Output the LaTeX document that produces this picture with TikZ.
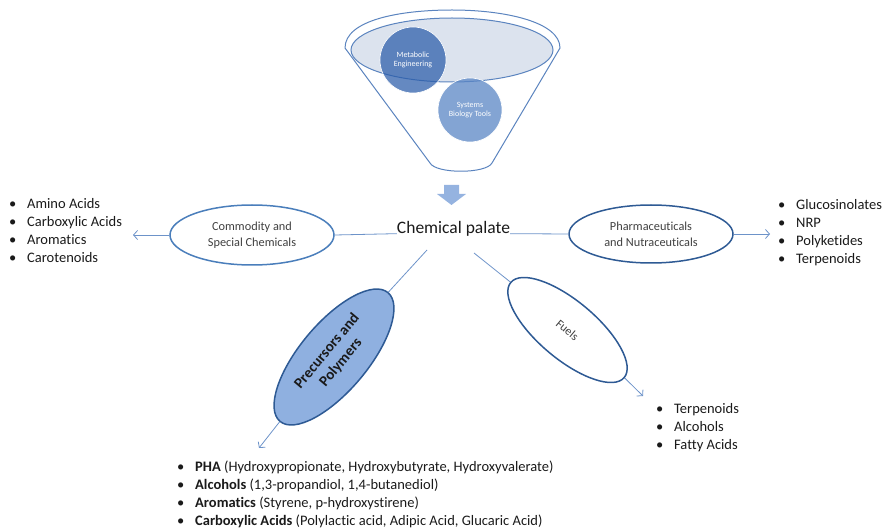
\documentclass[tikz,border=0pt]{standalone}
\usepackage{fontspec}
\setmainfont{Carlito}[Ligatures={NoCommon}]
\usetikzlibrary{shapes.geometric,arrows.meta}
\definecolor{conn}{HTML}{6D93C9}
\definecolor{lightring}{HTML}{4A7EBB}
\definecolor{darkring}{HTML}{2E5A94}
\definecolor{precfill}{HTML}{8FB0E0}
\definecolor{funnelline}{HTML}{5B84BF}
\definecolor{innerfill}{HTML}{DCE3EE}
\definecolor{metab}{HTML}{2A5CAA}
\definecolor{sysbio}{HTML}{5A86C5}
\definecolor{blockarrow}{HTML}{95B3E0}
\definecolor{txt}{HTML}{1A1A1A}
\definecolor{ovaltxt}{HTML}{404040}
\newcommand\blt{\makebox[18pt][l]{•}}
\tikzset{
  connector/.style={draw=conn, line width=0.8pt},
  tipline/.style={connector, -{Straight Barb[length=4pt,width=9pt]}},
  oval/.style={ellipse, draw, line width=1.5pt, inner sep=0pt, align=center, text=ovaltxt},
  circ/.style={circle, draw=white, line width=0.6pt, inner sep=0pt, text=white, align=center, font=\fontsize{8}{9.5}\selectfont},
  listbox/.style={anchor=north west, inner sep=0pt, text=txt, font=\fontsize{14.5}{18}\selectfont}
}
\begin{document}
\begin{tikzpicture}[x=1pt,y=-1pt]
\useasboundingbox (0,0) rectangle (883,529);
% funnel
\path[draw=funnelline, line width=1pt, fill=white]
  (345,48) .. controls (345,20) and (400,10) .. (452,10)
  .. controls (505,10) and (560,22) .. (560,48)
  -- (492,163) .. controls (486,174) and (436,174) .. (430,163) -- cycle;
\node[ellipse, draw=funnelline, line width=1pt, fill=innerfill, minimum width=202pt, minimum height=64pt, inner sep=0pt] (rim) at (452,50) {};
\node[circ, fill=metab, fill opacity=0.72, text opacity=1, minimum size=66pt] (me) at (413,60) {Metabolic\\Engineering};
\node[circ, fill=sysbio, fill opacity=0.75, text opacity=1, minimum size=64pt] (sb) at (470,110) {Systems\\Biology Tools};
% block arrow
\fill[blockarrow] (444,185) -- (459,185) -- (459,194) -- (466,194) -- (451.5,205) -- (437,194) -- (444,194) -- cycle;
% centre text
\node[text=txt, font=\fontsize{17.5}{20}\selectfont, inner sep=0pt] (palate) at (453.5,229) {Chemical palate};
% ovals
\node[oval, draw=lightring, minimum width=164pt, minimum height=60pt, font=\fontsize{12.3}{16}\selectfont] (comm) at (252,235) {Commodity and\\Special Chemicals};
\node[oval, draw=darkring, minimum width=164pt, minimum height=58pt, font=\fontsize{12.3}{16}\selectfont] (pharm) at (651,234) {Pharmaceuticals\\and Nutraceuticals};
\node[oval, draw=darkring, fill=precfill, minimum width=168pt, minimum height=68pt, rotate=50, text=txt, font=\bfseries\fontsize{15}{18}\selectfont] (prec) at (334,357) {Precursors and\\Polymers};
\node[oval, draw=darkring, fill=white, minimum width=148pt, minimum height=58pt, rotate=-40, font=\fontsize{12}{14}\selectfont] (fuels) at (567.5,330) {Fuels};
% connectors
\coordinate (pl1) at (427,250);
\coordinate (pl2) at (474,253);
\coordinate (endL) at (133,235);
\coordinate (endR) at (770,234);
\coordinate (endP) at (259,448);
\coordinate (endF) at (643,396);
\draw[connector] (palate.base west) -- (comm.east);
\draw[connector] (palate.base east) -- (pharm.west);
\draw[connector] (pl1) -- (prec.east);
\draw[connector] (pl2) -- (fuels.west);
\draw[tipline] (comm.west) -- (endL);
\draw[tipline] (pharm.east) -- (endR);
\draw[tipline] (prec.west) -- (endP);
\draw[tipline] (fuels.east) -- (endF);
% lists
\node[listbox] (listL) at (9,196) {\begin{tabular}{@{}l@{}}
\blt Amino Acids\\ \blt Carboxylic Acids\\ \blt Aromatics\\ \blt Carotenoids\end{tabular}};
\node[listbox] (listR) at (778,197) {\begin{tabular}{@{}l@{}}
\blt Glucosinolates\\ \blt NRP\\ \blt Polyketides\\ \blt Terpenoids\end{tabular}};
\node[listbox] (listF) at (656,401) {\begin{tabular}{@{}l@{}}
\blt Terpenoids\\ \blt Alcohols\\ \blt Fatty Acids\end{tabular}};
\node[listbox] (listB) at (177,459) {\begin{tabular}{@{}l@{}}
\blt\textbf{PHA} (Hydroxypropionate, Hydroxybutyrate, Hydroxyvalerate)\\
\blt\textbf{Alcohols} (1,3-propandiol, 1,4-butanediol)\\
\blt\textbf{Aromatics} (Styrene, p-hydroxystirene)\\
\blt\textbf{Carboxylic Acids} (Polylactic acid, Adipic Acid, Glucaric Acid)\end{tabular}};
\end{tikzpicture}
\end{document}
